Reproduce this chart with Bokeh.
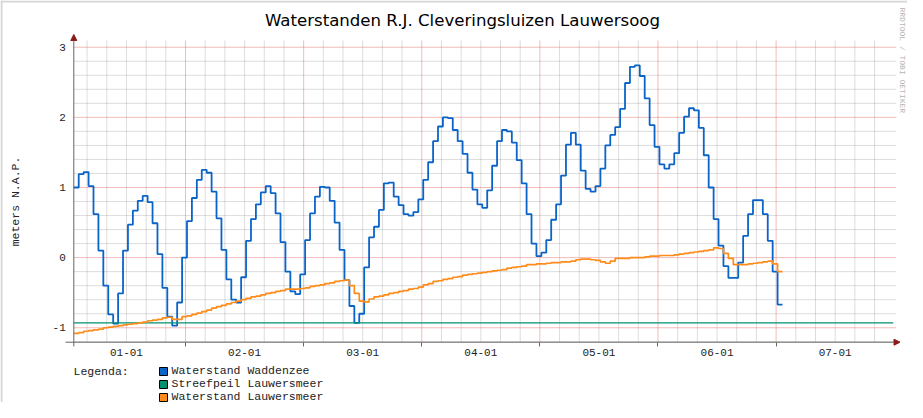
import math
from bokeh.plotting import figure
from bokeh.models import (FixedTicker, Label, Legend, LegendItem, Arrow,
                          NormalHead, Range1d, Span)
from bokeh.embed import file_html
from bokeh.resources import INLINE

# ---------------- data ----------------
TITLE = "Waterstanden R.J. Cleveringsluizen Lauwersoog"
Y_LABEL = "meters N.A.P."
DAY_LABELS = ["01-01", "02-01", "03-01", "04-01", "05-01", "06-01", "07-01"]
Y_TICKS = [-1, 0, 1, 2, 3]
Y_TICK_LABELS = ["-1", "0", "1", "2", "3"]
LEGEND_TITLE = "Legenda:"
SERIES_NAMES = ["Waterstand Waddenzee", "Streefpeil Lauwersmeer", "Waterstand Lauwersmeer"]
WATERMARK = "RRDTOOL / TOBI OETIKER"

START_HOUR = 1.3      # first hourly sample, hours after 01-01 00:00
END_HOUR = 168.4      # right end of the time axis
STREEFPEIL_END = 167.8
STREEFPEIL = -0.93

# hourly water level Waddenzee (m N.A.P.)
waddenzee = [
    1.00, 1.19, 1.22, 1.02, 0.62, 0.10, -0.40, -0.81, -0.94, -0.51,
    0.10, 0.47, 0.67, 0.81, 0.88, 0.79, 0.49, 0.05, -0.43, -0.84,
    -0.97, -0.64, 0.00, 0.52, 0.85, 1.11, 1.25, 1.21, 0.94, 0.56,
    0.11, -0.31, -0.60, -0.64, -0.28, 0.24, 0.55, 0.76, 0.93, 1.02,
    0.92, 0.63, 0.22, -0.20, -0.48, -0.52, -0.24, 0.25, 0.63, 0.87,
    1.01, 1.00, 0.81, 0.50, 0.11, -0.32, -0.69, -0.93, -0.80, -0.14,
    0.29, 0.44, 0.68, 1.06, 1.07, 0.87, 0.75, 0.62, 0.60, 0.65,
    0.83, 1.11, 1.36, 1.66, 1.87, 2.00, 1.99, 1.82, 1.66, 1.48,
    1.21, 0.97, 0.76, 0.71, 0.96, 1.31, 1.66, 1.82, 1.80, 1.64,
    1.39, 1.06, 0.62, 0.20, 0.02, 0.07, 0.25, 0.54, 0.76, 1.17,
    1.61, 1.78, 1.61, 1.24, 0.98, 0.94, 1.02, 1.27, 1.60, 1.75,
    1.86, 2.12, 2.49, 2.72, 2.74, 2.59, 2.27, 1.89, 1.58, 1.33,
    1.27, 1.33, 1.49, 1.78, 2.01, 2.13, 2.10, 1.85, 1.46, 1.00,
    0.55, 0.17, -0.12, -0.29, -0.29, -0.07, 0.31, 0.62, 0.82, 0.82,
    0.62, 0.24, -0.20, -0.67,
]

# hourly water level Lauwersmeer (m N.A.P.)
lauwersmeer = [
    -1.08, -1.07, -1.05, -1.04, -1.03, -1.02, -1.00, -0.99, -0.98, -0.97,
    -0.96, -0.95, -0.94, -0.93, -0.92, -0.90, -0.89, -0.88, -0.86, -0.85,
    -0.88, -0.88, -0.84, -0.83, -0.81, -0.79, -0.77, -0.75, -0.72, -0.70,
    -0.68, -0.66, -0.64, -0.62, -0.60, -0.58, -0.56, -0.55, -0.53, -0.51,
    -0.50, -0.48, -0.47, -0.45, -0.45, -0.45, -0.44, -0.43, -0.41, -0.40,
    -0.39, -0.37, -0.36, -0.34, -0.33, -0.32, -0.40, -0.51, -0.62, -0.63,
    -0.59, -0.56, -0.55, -0.53, -0.51, -0.50, -0.48, -0.47, -0.45, -0.44,
    -0.42, -0.39, -0.37, -0.34, -0.33, -0.31, -0.30, -0.28, -0.27, -0.25,
    -0.24, -0.23, -0.22, -0.21, -0.20, -0.19, -0.18, -0.17, -0.15, -0.14,
    -0.13, -0.12, -0.10, -0.10, -0.09, -0.09, -0.08, -0.07, -0.07, -0.06,
    -0.06, -0.05, -0.03, -0.02, -0.02, -0.03, -0.04, -0.06, -0.08, -0.05,
    -0.01, -0.01, -0.01, 0.00, 0.00, 0.00, 0.01, 0.02, 0.02, 0.03,
    0.03, 0.03, 0.04, 0.05, 0.06, 0.07, 0.08, 0.09, 0.10, 0.11,
    0.14, 0.13, 0.06, -0.01, -0.10, -0.10, -0.10, -0.09, -0.08, -0.07,
    -0.06, -0.05, -0.09, -0.20,
]

# ---------------- styling / geometry ----------------
BLUE = "#0a64c8"
GREEN = "#009070"
ORANGE = "#ff8c1a"
RED_DARK = "#8b1a1a"
AXIS_COL = "#666666"
TEXT_COL = "#222222"
MONO = "Liberation Mono"

W, H = 907, 402
# plot area (canvas pixels)
PL, PR, PT, PB = 73.3, 895.7, 40.0, 341.7
Y0, Y1 = -1.206, 3.096
X0, X1 = START_HOUR, END_HOUR
SX = (PR - PL) / (X1 - X0)
SY = (PB - PT) / (Y1 - Y0)
XS, XE = X0 - PL / SX, X1 + (W - PR) / SX
YT, YB = Y1 + PT / SY, Y0 - (H - PB) / SY


def fx(px):
    """canvas pixel x -> data x"""
    return XS + px / SX


def fy(py):
    """canvas pixel y -> data y"""
    return YT - py / SY


p = figure(width=W, height=H, output_backend="svg", toolbar_location=None,
           x_range=Range1d(XS, XE), y_range=Range1d(YB, YT),
           min_border_left=0, min_border_right=0,
           min_border_top=0, min_border_bottom=0)
p.outline_line_color = None
p.background_fill_color = "white"
p.border_fill_color = "white"
p.xgrid.grid_line_color = None
p.ygrid.grid_line_color = None

# grid lines, limited to the plot area
day_bounds = [24 * i for i in range(1, 7)]
minor_x = [4 * i for i in range(1, 42) if (4 * i) % 24 != 0]
minor_y = [round(-1.2 + 0.2 * i, 1) for i in range(22)]
minor_y = [v for v in minor_y if abs(v - round(v)) > 1e-6]
for col, alpha, vx, hy in [("#8f8f8f", 0.30, minor_x, minor_y),
                           ("#de5050", 0.38, day_bounds, Y_TICKS)]:
    p.segment(x0=vx, y0=[Y0] * len(vx), x1=vx, y1=[Y1] * len(vx),
              line_color=col, line_alpha=alpha, line_width=1)
    p.segment(x0=[X0] * len(hy), y0=hy, x1=[X1] * len(hy), y1=hy,
              line_color=col, line_alpha=alpha, line_width=1)

# axes, pinned at the plot-area edges
xa = p.xaxis[0]
xa.fixed_location = Y0
noon_ticks = [12 + 24 * i for i in range(len(DAY_LABELS))]
xa.ticker = FixedTicker(ticks=noon_ticks, minor_ticks=day_bounds)
xa.major_label_overrides = {t: lab for t, lab in zip(noon_ticks, DAY_LABELS)}
xa.major_tick_out = 0
xa.major_tick_in = 0
xa.minor_tick_out = 4
xa.minor_tick_in = 0
xa.minor_tick_line_color = AXIS_COL
xa.axis_line_color = None
xa.major_label_text_font = MONO
xa.major_label_text_font_size = "11px"
xa.major_label_text_color = TEXT_COL
xa.major_label_standoff = 3

ya = p.yaxis[0]
ya.fixed_location = X0
ya.ticker = FixedTicker(ticks=Y_TICKS, minor_ticks=[])
ya.major_label_overrides = {t: lab for t, lab in zip(Y_TICKS, Y_TICK_LABELS)}
ya.major_tick_out = 0
ya.major_tick_in = 0
ya.minor_tick_out = 0
ya.axis_line_color = None
ya.major_label_text_font = MONO
ya.major_label_text_font_size = "11px"
ya.major_label_text_color = TEXT_COL
ya.major_label_standoff = 8
ya.axis_label = Y_LABEL
ya.axis_label_text_font = MONO
ya.axis_label_text_font_size = "11.5px"
ya.axis_label_text_font_style = "normal"
ya.axis_label_text_color = TEXT_COL
ya.axis_label_standoff = 27

# series (hourly steps)
t1 = [START_HOUR + k for k in range(len(waddenzee))]
p.step(t1 + [t1[-1] + 1], waddenzee + [waddenzee[-1]], mode="after",
       line_color=BLUE, line_width=1.8)
p.line([START_HOUR, STREEFPEIL_END], [STREEFPEIL, STREEFPEIL],
       line_color=GREEN, line_width=1.3)
t2 = [START_HOUR + k for k in range(len(lauwersmeer))]
p.step(t2 + [t2[-1] + 1], lauwersmeer + [lauwersmeer[-1]], mode="after",
       line_color=ORANGE, line_width=1.7)

# axis lines with arrow heads
p.add_layout(Arrow(x_start=fx(65), y_start=Y0, x_end=fx(899.5), y_end=Y0,
                   line_color=AXIS_COL, line_width=1,
                   end=NormalHead(size=6, fill_color=RED_DARK, line_color=RED_DARK)))
p.add_layout(Arrow(x_start=X0, y_start=fy(346), x_end=X0, y_end=fy(34),
                   line_color=AXIS_COL, line_width=1,
                   end=NormalHead(size=6, fill_color=RED_DARK, line_color=RED_DARK)))

# light frame edge (top / left)
p.add_layout(Span(location=fy(1), dimension="width", line_color="#d6d6d6", line_width=2))
p.add_layout(Span(location=fx(1), dimension="height", line_color="#d6d6d6", line_width=2))

# title
p.add_layout(Label(x=fx(462), y=fy(20), text=TITLE, text_align="center",
                   text_baseline="middle", text_font="DejaVu Sans",
                   text_font_size="16.6px", text_color="black"))

# watermark
p.add_layout(Label(x=fx(902), y=fy(7), text=WATERMARK, angle=-math.pi / 2,
                   text_align="left", text_baseline="middle", text_font=MONO,
                   text_font_size="8px", text_color="#b4b4b4"))

# legend
p.add_layout(Label(x=fx(73), y=fy(370.5), text=LEGEND_TITLE, text_align="left",
                   text_baseline="middle", text_font=MONO,
                   text_font_size="11.5px", text_color=TEXT_COL))
NAN = float("nan")
sq = []
for col in [BLUE, GREEN, ORANGE]:
    # legend swatches only: NaN coordinates draw nothing in the plot
    r = p.quad(left=[NAN], right=[NAN], top=[NAN], bottom=[NAN], fill_color=col,
               line_color="black", line_width=1)
    sq.append(r)
legend = Legend(items=[LegendItem(label=n, renderers=[r]) for n, r in zip(SERIES_NAMES, sq)],
                location=(157.5, -1), orientation="vertical",
                glyph_width=10, glyph_height=10, label_height=13, label_width=10,
                spacing=0, padding=0, margin=0, label_standoff=4,
                border_line_color=None, background_fill_alpha=0,
                label_text_font=MONO, label_text_font_size="11.5px",
                label_text_color=TEXT_COL, label_text_baseline="middle")
p.add_layout(legend)

open("out.html", "w").write(file_html(p, INLINE))
